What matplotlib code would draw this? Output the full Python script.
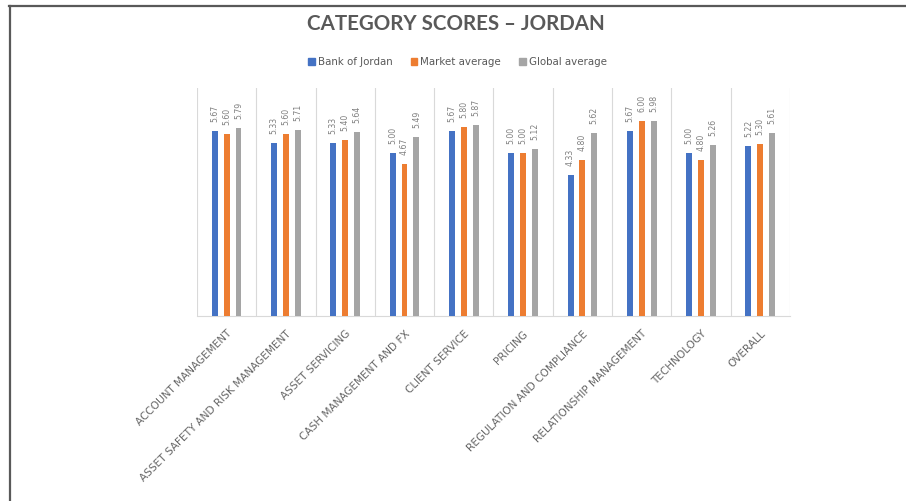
import matplotlib.pyplot as plt
from matplotlib.lines import Line2D
from matplotlib.patches import Patch

categories = [
    "ACCOUNT MANAGEMENT",
    "ASSET SAFETY AND RISK MANAGEMENT",
    "ASSET SERVICING",
    "CASH MANAGEMENT AND FX",
    "CLIENT SERVICE",
    "PRICING",
    "REGULATION AND COMPLIANCE",
    "RELATIONSHIP MANAGEMENT",
    "TECHNOLOGY",
    "OVERALL",
]
bank = [5.67, 5.33, 5.33, 5.00, 5.67, 5.00, 4.33, 5.67, 5.00, 5.22]
market = [5.60, 5.60, 5.40, 4.67, 5.80, 5.00, 4.80, 6.00, 4.80, 5.30]
global_avg = [5.79, 5.71, 5.64, 5.49, 5.87, 5.12, 5.62, 5.98, 5.26, 5.61]

series = [
    ("Bank of Jordan", bank, "#4472C4"),
    ("Market average", market, "#ED7D31"),
    ("Global average", global_avg, "#A5A5A5"),
]

fig = plt.figure(figsize=(9.06, 5.01), dpi=100)
ax = fig.add_axes([0.2174, 0.369, 0.6545, 0.455])

x = [i + 0.5 for i in range(len(categories))]
offsets = [-0.2, 0.0, 0.2]
for (name, vals, col), off in zip(series, offsets):
    pos = [xi + off for xi in x]
    ax.bar(pos, vals, width=0.1, color=col, zorder=3)
    for p, v in zip(pos, vals):
        ax.annotate(f"{v:.2f}", (p, v), xytext=(0, 6.5), textcoords="offset points",
                    rotation=90, ha="center", va="bottom", fontsize=5.6,
                    color="#7f7f7f")

ax.set_xlim(0, 10)
ax.set_ylim(0, 7)
ax.set_yticks([])
for b in range(11):
    ax.axvline(b, color="#d9d9d9", lw=0.8, zorder=1)
for s in ["top", "right", "left"]:
    ax.spines[s].set_visible(False)
ax.spines["bottom"].set_color("#d9d9d9")
ax.spines["bottom"].set_linewidth(0.8)

ax.set_xticks(x)
ax.set_xticklabels(categories, rotation=45, ha="right", rotation_mode="anchor",
                   fontsize=7.6, color="#666666")
ax.tick_params(axis="x", length=0, pad=9)

fig.text(0.503, 0.953, "CATEGORY SCORES – JORDAN", ha="center", va="center",
         fontsize=14.8, fontweight="bold", color="#595959", family="Lato")

handles = [Patch(color=c, label=n) for n, _, c in series]
fig.legend(handles=handles, loc="center", bbox_to_anchor=(0.505, 0.876), ncol=3,
           frameon=False, fontsize=7.4, handlelength=0.6, handleheight=0.6,
           handletextpad=0.3, columnspacing=1.8, labelcolor="#595959")

fig.add_artist(Line2D([0.010, 1.0], [0.989, 0.989], color="#595959", lw=1.6))
fig.add_artist(Line2D([0.011, 0.011], [0.0, 0.989], color="#595959", lw=1.6))

fig.savefig("out.png", dpi=100)
